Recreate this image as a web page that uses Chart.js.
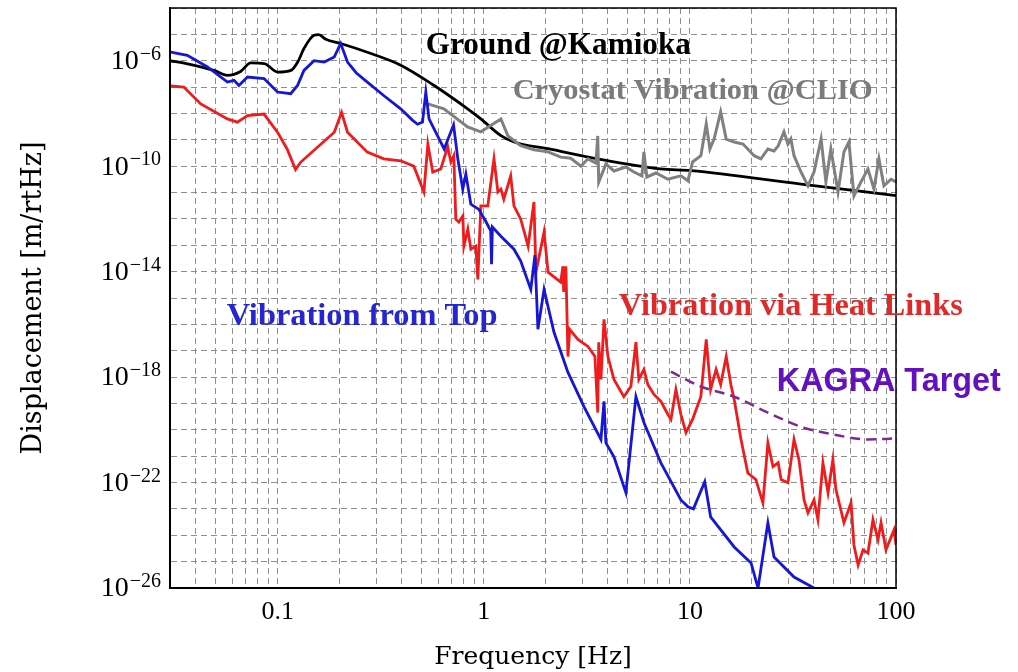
<!DOCTYPE html>
<html><head><meta charset="utf-8">
<script src="https://cdn.jsdelivr.net/npm/chart.js@4"></script>
<style>html,body{margin:0;padding:0;background:#fff;} #wrap{width:1018px;height:672px;}</style>
</head><body><div id="wrap"><canvas id="c" width="1018" height="672"></canvas></div>
<script>
// ---- data: [frequency Hz, displacement m/rtHz] ----
const groundKamioka = [
 [0.030,1.0e-6],[0.036,7.8e-7],[0.049,4.3e-7],[0.057,2.8e-7],[0.066,3.9e-7],[0.074,8.3e-7],
 [0.086,7.8e-7],[0.100,3.7e-7],[0.116,4.3e-7],[0.125,8.9e-7],[0.134,2.9e-6],[0.150,9.3e-6],
 [0.158,9.8e-6],[0.171,6.5e-6],[0.202,4.5e-6],[0.272,2.1e-6],[0.395,6.8e-7],[0.574,1.15e-7],
 [0.834,1.5e-8],[0.967,6.2e-9],[1.21,1.45e-9],[1.40,8.3e-10],[2.05,4.6e-10],[3.57,1.9e-10],
 [7.2,7.9e-11],[10.1,6.8e-11],[34.6,2.1e-11],[100,7.6e-12]
];
const cryostatCLIO = [
 [0.535,2.3e-8],[0.64,1.5e-8],[0.834,3.1e-9],[0.967,2.0e-9],[1.21,6.2e-9],[1.31,1.4e-9],
 [1.51,6.0e-10],[1.75,4.2e-10],[2.05,3.5e-10],[2.36,2.2e-10],[2.64,2.0e-10],[2.96,1.0e-10],
 [3.20,1.9e-10],[3.50,1.3e-10],[3.57,1.4e-9],[3.61,2.5e-11],[3.91,1.2e-10],[4.28,6.6e-11],
 [4.89,9.3e-11],[5.35,6.0e-11],[5.85,4.3e-11],[5.98,3.5e-10],[6.18,3.9e-11],[6.84,5.5e-11],
 [7.82,3.2e-11],[9.04,4.3e-11],[9.78,2.8e-11],[10.3,1.45e-10],[11.3,2.5e-10],[12.0,4.0e-9],
 [12.5,4.5e-10],[13.1,1.07e-9],[14.1,1.15e-8],[15.0,1.07e-9],[16.4,8.3e-10],[18.1,6.9e-10],
 [20.5,2.5e-10],[22.1,1.9e-10],[23.9,4.5e-10],[25.6,3.8e-10],[26.8,5.9e-10],[28.6,2.0e-9],
 [29.9,6.9e-10],[30.9,1.07e-9],[32.0,2.5e-10],[34.6,6.0e-11],[37.4,1.8e-11],[40.0,6.0e-11],
 [43.3,1.07e-9],[45.7,2.5e-11],[48.3,4.5e-10],[52.3,1.05e-11],[55.9,3.5e-10],[59.1,8.3e-10],
 [62.5,7.4e-12],[67.6,2.5e-11],[73.1,7.8e-11],[78.2,1.35e-11],[82.6,1.9e-10],[87.4,1.8e-11],
 [94.6,3.2e-11],[100,2.5e-11]
];
const vibrationFromTop = [
 [0.0303,2.1e-6],[0.0364,1.6e-6],[0.0456,5.8e-7],[0.057,1.55e-7],[0.0614,1.8e-7],[0.0648,1.15e-7],
 [0.0713,2.4e-7],[0.0858,2.1e-7],[0.0997,6.5e-8],[0.1156,5.6e-8],[0.1247,1.15e-7],[0.134,4.3e-7],
 [0.150,1.0e-6],[0.168,8.9e-7],[0.188,1.4e-6],[0.202,4.5e-6],[0.218,8.9e-7],[0.24,3.5e-7],
 [0.272,1.55e-7],[0.33,4.5e-8],[0.395,1.5e-8],[0.45,5.6e-9],[0.477,3.9e-9],[0.504,4.7e-9],
 [0.523,6.5e-8],[0.542,6.2e-9],[0.642,4.5e-10],[0.713,3.7e-9],[0.748,1.86e-10],[0.79,1.35e-11],
 [0.818,5.0e-11],[0.865,3.6e-12],[0.946,2.3e-12],[1.02,8.3e-13],[1.08,3.5e-13],[1.09,1.9e-14],
 [1.10,4.9e-13],[1.21,2.2e-13],[1.40,7.1e-14],[1.51,2.5e-14],[1.69,2.1e-15],[1.77,4.2e-14],
 [1.83,6.5e-17],[1.96,2.1e-15],[2.19,5.0e-17],[2.56,1.5e-18],[3.06,7.6e-20],[3.70,4.3e-21],
 [3.83,1.2e-19],[3.91,3.2e-21],[4.28,9.5e-22],[4.89,4.1e-23],[5.47,1.8e-19],[5.98,1.9e-20],
 [7.23,5.6e-22],[9.04,2.2e-23],[9.78,1.2e-23],[10.4,1.0e-23],[11.8,1.07e-22],[12.6,5.0e-24],
 [16.4,3.6e-25],[19.8,8.9e-26],[21.4,1.0e-26],[23.9,2.95e-24],[25.6,1.5e-25],[32.0,2.6e-26],
 [40.0,1.0e-26]
];
const vibrationHeatLinks = [
 [0.0303,1.1e-7],[0.035,1.0e-7],[0.0423,2.3e-8],[0.057,6.2e-9],[0.0637,4.7e-9],[0.0713,8.3e-9],
 [0.0858,9.5e-9],[0.0997,1.95e-9],[0.111,4.5e-10],[0.122,7.4e-11],[0.129,1.4e-10],[0.188,1.95e-9],
 [0.204,1.1e-8],[0.218,1.95e-9],[0.272,3.4e-10],[0.327,1.9e-10],[0.395,1.6e-10],[0.457,1.0e-10],
 [0.512,1.05e-11],[0.535,6.9e-10],[0.565,6.0e-11],[0.618,7.8e-11],[0.668,5.4e-10],[0.692,1.45e-10],
 [0.715,2.5e-10],[0.731,9.8e-13],[0.756,7.6e-13],[0.791,1.3e-12],[0.80,9.3e-14],[0.836,4.1e-13],
 [0.865,7.1e-14],[0.914,9.3e-14],[0.935,5.1e-15],[0.967,3.1e-12],[1.045,3.1e-12],[1.12,1.9e-10],
 [1.17,1.05e-11],[1.21,1.35e-11],[1.25,5.6e-12],[1.35,4.3e-11],[1.40,3.1e-12],[1.51,9.8e-13],
 [1.64,9.3e-14],[1.75,4.4e-12],[1.79,9.5e-15],[1.96,3.2e-13],[2.05,9.5e-15],[2.36,4.0e-15],
 [2.42,1.6e-14],[2.44,1.7e-15],[2.50,1.6e-14],[2.56,6.0e-18],[2.61,6.5e-17],[2.86,2.7e-17],
 [3.20,1.45e-17],[3.46,6.0e-18],[3.57,4.5e-20],[3.61,2.1e-17],[3.70,8.1e-19],[3.83,1.55e-16],
 [4.0,6.0e-18],[4.28,8.1e-19],[4.78,1.8e-19],[5.17,4.4e-19],[5.47,2.1e-17],[5.65,8.1e-19],
 [5.98,1.95e-18],[6.25,5.2e-19],[6.69,2.2e-19],[7.23,1.2e-19],[7.82,3.8e-20],[8.09,2.5e-20],
 [8.55,3.4e-19],[9.04,3.8e-20],[9.57,7.8e-21],[10.3,2.5e-20],[11.3,1.8e-19],[12.0,2.7e-17],
 [12.6,3.4e-19],[13.4,1.95e-18],[14.1,5.2e-19],[15.0,6.0e-18],[15.8,5.2e-19],[16.4,1.4e-19],
 [17.7,4.3e-21],[19.1,2.3e-22],[20.9,1.3e-22],[22.6,1.7e-23],[23.9,3.2e-21],[25.3,4.0e-22],
 [26.8,5.6e-22],[27.7,1.3e-22],[29.9,9.8e-23],[32.0,4.3e-21],[33.8,7.4e-22],[35.8,2.2e-23],
 [37.4,7.1e-24],[40.0,2.2e-23],[41.8,3.9e-24],[44.2,5.6e-22],[46.8,4.1e-23],[49.4,7.4e-22],
 [51.1,5.4e-23],[55.9,3.0e-24],[60.5,1.7e-23],[62.5,4.3e-25],[65.5,7.4e-26],[69.2,2.8e-25],
 [73.1,2.1e-25],[77.3,3.9e-24],[81.8,6.8e-25],[84.6,3.0e-24],[89.4,2.8e-25],[97.8,1.6e-24],
 [100,4.3e-25]
];
const kagraTarget = [
 [8.09,1.6e-18],[11.3,4.4e-19],[16.4,1.8e-19],[23.9,4.5e-20],[34.6,1.3e-20],[50.0,6.6e-21],
 [73.1,4.3e-21],[100,4.7e-21]
];

// ---- ticks ----
const xTickValues = [0.03,0.04,0.05,0.06,0.07,0.08,0.09,0.1,0.2,0.3,0.4,0.5,0.6,0.7,0.8,0.9,
  1,2,3,4,5,6,7,8,9,10,20,30,40,50,60,70,80,90,100];
const xTickLabels = ['0.1','1','10','100'];
const yGridExponents = [-26,-25,-24,-23,-22,-21,-20,-19,-18,-17,-16,-15,-14,-13,-12,-11,-10,-9,-8,-7,-6,-5,-4];
const yLabelExponents = [-26,-22,-18,-14,-10,-6];

// ---- annotation texts (anchored in data coordinates) ----
const annotations = [
 {text:'Ground @Kamioka', f:0.523, v:3.7e-6, color:'#000000', family:'"Liberation Serif"', weight:'bold', width:265},
 {text:'Cryostat Vibration @CLIO', f:1.38, v:7.2e-8, color:'#7b7b7b', family:'"Liberation Serif"', weight:'bold', width:360},
 {text:'Vibration from Top', f:0.0565, v:1.9e-16, color:'#2525d2', family:'"Liberation Serif"', weight:'bold', width:271},
 {text:'Vibration via Heat Links', f:4.52, v:4.8e-16, color:'#e02a2a', family:'"Liberation Serif"', weight:'bold', width:344},
 {text:'KAGRA Target', f:26.4, v:6.3e-19, color:'#6410bf', family:'"Liberation Sans"', weight:'bold', width:224}
];

const toXY = arr => arr.map(p => ({x:p[0], y:p[1]}));

const decorPlugin = {
  id:'decor',
  beforeDraw(chart){
    const c = chart.ctx; c.save(); c.fillStyle='#fff'; c.fillRect(0,0,chart.width,chart.height); c.restore();
  },
  afterDraw(chart){
    const c = chart.ctx, a = chart.chartArea, xs = chart.scales.x, ys = chart.scales.y;
    c.save();
    c.strokeStyle='#000'; c.lineWidth=1.5;
    c.strokeRect(a.left, a.top, a.right-a.left, a.bottom-a.top);
    // y tick labels 10^n
    c.fillStyle='#000';
    yLabelExponents.forEach(e => {
      const py = ys.getPixelForValue(Math.pow(10,e));
      const exp = '\u2212' + Math.abs(e);
      c.font = '20px "Liberation Serif"';
      const ew = c.measureText(exp).width;
      const xr = a.left - 9;
      c.textAlign='left'; c.textBaseline='alphabetic';
      c.fillText(exp, xr-ew, py-1);
      c.font = '28px "Liberation Serif"';
      c.textAlign='right'; c.textBaseline='middle';
      c.fillText('10', xr-ew-1, py+1);
    });
    // annotations
    annotations.forEach(t => {
      let size = 30;
      c.font = t.weight+' '+size+'px '+t.family;
      size = size * t.width / c.measureText(t.text).width;
      c.font = t.weight+' '+size.toFixed(2)+'px '+t.family;
      c.fillStyle = t.color; c.textAlign='left'; c.textBaseline='middle';
      c.fillText(t.text, xs.getPixelForValue(t.f), ys.getPixelForValue(t.v));
    });
    c.restore();
  }
};

new Chart(document.getElementById('c'), {
  type:'line',
  data:{ datasets:[
    {label:'Ground @Kamioka', data:toXY(groundKamioka), borderColor:'#000000', borderWidth:2.8, cubicInterpolationMode:'monotone', order:4},
    {label:'Cryostat Vibration @CLIO', data:toXY(cryostatCLIO), borderColor:'#808080', borderWidth:3, tension:0, order:3},
    {label:'Vibration via Heat Links', data:toXY(vibrationHeatLinks), borderColor:'#ee1c1c', borderWidth:2.8, tension:0, order:2},
    {label:'Vibration from Top', data:toXY(vibrationFromTop), borderColor:'#1616d4', borderWidth:2.8, tension:0, order:1},
    {label:'KAGRA Target', data:toXY(kagraTarget), borderColor:'#7d2a90', borderWidth:2.5, borderDash:[10,6], cubicInterpolationMode:'monotone', order:0}
  ]},
  options:{
    responsive:false, animation:false, devicePixelRatio:1,
    elements:{ point:{ radius:0, hoverRadius:0 }, line:{ fill:false } },
    layout:{ padding:{ left:0, right:122, top:8, bottom:0 } },
    plugins:{ legend:{ display:false }, tooltip:{ enabled:false } },
    events:[],
    scales:{
      x:{ type:'logarithmic', position:'bottom', min:0.03, max:100,
        afterBuildTicks: s => { s.ticks = xTickValues.map(v => ({value:v})); },
        afterFit: s => { s.height = 84; },
        ticks:{ autoSkip:false, maxRotation:0, minRotation:0, padding:9, color:'#000',
          font:{ family:'"Liberation Serif"', size:26 },
          callback:(v) => { const s = String(+v.toPrecision(3)); return xTickLabels.includes(s) ? s : ''; } },
        grid:{ color:'#8f8f8f', lineWidth:1, drawTicks:false },
        border:{ display:true, color:'#000', width:2, dash:[6,4] },
        title:{ display:true, text:'Frequency [Hz]', color:'#000', font:{ family:'"DejaVu Serif"', size:25 }, padding:{ top:0, bottom:0 } }
      },
      y:{ type:'logarithmic', position:'left', min:1e-26, max:1e-4,
        afterBuildTicks: s => { s.ticks = yGridExponents.map(e => ({value:Math.pow(10,e)})); },
        afterFit: s => { s.width = 170; },
        ticks:{ display:false },
        grid:{ color:'#8f8f8f', lineWidth:1, drawTicks:false },
        border:{ display:true, color:'#000', width:2, dash:[6,4] },
        title:{ display:true, text:'Displacement [m/rtHz]', color:'#000', font:{ family:'"DejaVu Serif"', size:27 }, padding:{ top:18, bottom:0 } }
      }
    }
  },
  plugins:[decorPlugin]
});
</script></body></html>
